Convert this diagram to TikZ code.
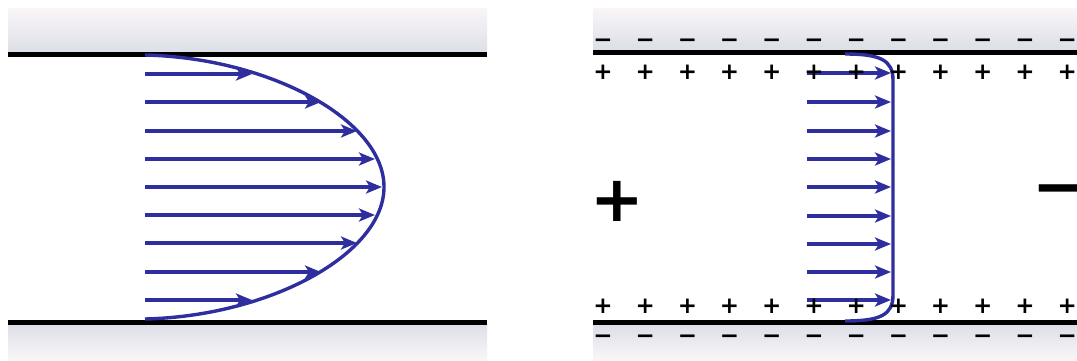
\documentclass[tikz,border=0pt]{standalone}
\usepackage{fontspec}
\newfontfamily\djv{DejaVu Sans}
\usetikzlibrary{arrows.meta}
\definecolor{flowblue}{RGB}{46,46,158}
\definecolor{bandlight}{RGB}{250,246,248}
\definecolor{bandmid}{RGB}{238,232,237}
\definecolor{banddark}{RGB}{220,223,231}
\tikzset{
  wall/.style={line width=5pt},
  flow/.style={flowblue,line width=3.6pt,-{Stealth[length=16pt,width=13pt,inset=4pt]}},
  prof/.style={flowblue,line width=3.4pt},
  chg/.style={font=\djv\bfseries\fontsize{23}{23}\selectfont,inner sep=0pt,anchor=base},
  bigchg/.style={font=\djv\bfseries\fontsize{64}{64}\selectfont,inner sep=0pt,anchor=base},
}
\begin{document}
\begin{tikzpicture}[x=1pt,y=-1pt]
\useasboundingbox[fill=white] (0,0) rectangle (1077,360);
% ---- left panel bands
\shade[top color=bandlight,middle color=bandmid,bottom color=banddark] (8,8) rectangle (487,53);
\shade[top color=banddark,middle color=bandmid,bottom color=bandlight] (8,324) rectangle (487,360);
% ---- right panel bands
\shade[top color=bandlight,middle color=bandmid,bottom color=banddark] (593,8) rectangle (1077,50);
\shade[top color=banddark,middle color=bandmid,bottom color=bandlight] (593,324) rectangle (1077,360);
% ---- walls
\coordinate (LT1) at (8,54); \coordinate (LT2) at (487,54);
\coordinate (LB1) at (8,322); \coordinate (LB2) at (487,322);
\coordinate (RT1) at (593,52); \coordinate (RT2) at (1077,52);
\coordinate (RB1) at (593,322); \coordinate (RB2) at (1077,322);
\draw[wall] (LT1) -- (LT2);
\draw[wall] (LB1) -- (LB2);
\draw[wall] (RT1) -- (RT2);
\draw[wall] (RB1) -- (RB2);
% ---- left parabolic profile
\draw[prof] (145,55) .. controls (270,58) and (384,120) .. (384,187)
                     .. controls (384,254) and (270,316) .. (145,319);
\foreach \y/\x in {74/252,102/321,131/357,159/375,187/382,215/375,243/357,272/321,300/252}
  \draw[flow] (145,\y) -- (\x,\y);
% ---- right plug profile
\draw[prof] (845,54) .. controls (880,54) and (893,60) .. (893,80) -- (893,295)
            .. controls (893,315) and (880,321) .. (845,321);
\foreach \y in {73,102,131,159,187,216,244,272,300}
  \draw[flow] (807,\y) -- (891,\y);
% ---- charges
\foreach \i in {0,...,11}{
  \pgfmathsetmacro{\cx}{603+42.2*\i}
  \node[chg] (tm\i) at (\cx,47.5) {−};
  \node[chg] (tp\i) at (\cx,79.5) {+};
  \node[chg] (bp\i) at (\cx,313.5) {+};
  \node[chg] (bm\i) at (\cx,343.5) {−};
}
\node[bigchg] (bigplus) at (617,221) {+};
\node[bigchg] (bigminus) at (1059,208) {−};
\end{tikzpicture}
\end{document}
